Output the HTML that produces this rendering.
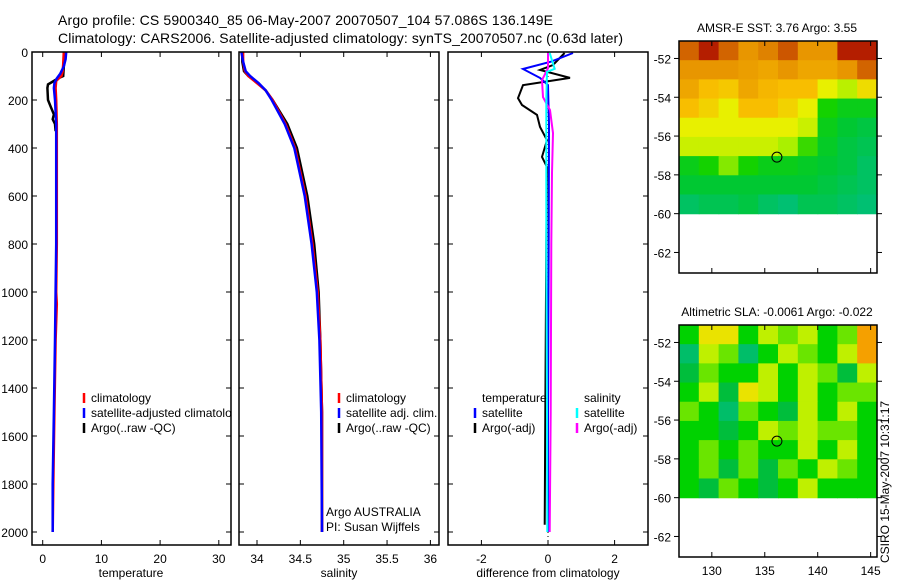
<!DOCTYPE html>
<html><head><meta charset="utf-8"><style>
html,body{margin:0;padding:0;background:#fff;}
svg{display:block;font-family:"Liberation Sans",sans-serif;}
text{fill:#000;}
</style></head><body>
<svg id="fig" width="900" height="580" viewBox="0 0 900 580" xmlns="http://www.w3.org/2000/svg">
<defs>
<clipPath id="c1"><rect x="32" y="52" width="199" height="493"/></clipPath>
<clipPath id="c2"><rect x="239" y="52" width="200" height="493"/></clipPath>
<clipPath id="c3"><rect x="448" y="52" width="200" height="493"/></clipPath>
</defs>
<text x="58" y="25" font-size="14" textLength="495">Argo profile: CS 5900340_85 06-May-2007 20070507_104 57.086S 136.149E</text>
<text x="58" y="43" font-size="14" textLength="565">Climatology: CARS2006. Satellite-adjusted climatology: synTS_20070507.nc (0.63d later)</text>
<g id="root"></g>
</svg>
<script>
// ---- profile data ----
const depthTclim = [0,50,80,100,120,150,200,300,500,800,1000,1050,1200,1500,1800,2000];
const tempClim   = [3.6,3.5,3.4,3.2,2.3,2.2,2.3,2.4,2.4,2.4,2.3,2.4,2.2,2.0,1.8,1.7];
const depthTsat  = [0,30,60,90,110,130,150,200,300,500,800,1000,1200,1500,1800,2000];
const tempSat    = [4.0,3.9,3.6,3.0,2.4,2.0,1.9,2.1,2.3,2.3,2.3,2.2,2.1,1.9,1.7,1.7];
const depthTargo = [0,30,60,100,110,125,135,150,200,230,260,280,300,330];
const tempArgo   = [3.8,3.7,3.6,3.5,2.6,1.6,0.9,0.8,0.9,1.4,1.9,1.7,2.1,2.2];

const depthS     = [0,40,80,100,130,160,200,300,400,600,800,1000,1200,1500,2000];
const salClim    = [33.84,33.84,33.86,33.9,34.0,34.1,34.18,34.33,34.44,34.56,34.64,34.70,34.73,34.75,34.75];
const salSat     = [33.82,33.84,33.87,33.92,34.02,34.1,34.17,34.32,34.43,34.55,34.63,34.69,34.72,34.74,34.75];
const salArgo    = [33.83,33.83,33.85,33.9,34.01,34.1,34.18,34.35,34.46,34.58,34.66,34.71,34.73,34.75,34.75];

const depthDT    = [4,54,75,108,138,192,221,262,312,367,437,479,800,1500,1970];
const diffTargo  = [0.5,0.15,-0.24,0.66,-0.75,-0.9,-0.78,-0.33,-0.24,-0.03,-0.18,-0.03,-0.05,-0.08,-0.1];
const depthDTs   = [4,40,71,108,138,300,800,1500,2000];
const diffTsat   = [0.75,0.1,-0.75,-0.24,0.0,0.03,0.02,0.0,0.0];
const depthDS    = [4,68,117,188,242,338,504,800,1500,2000];
const diffSargo  = [0.0,0.0,-0.18,-0.15,0.06,0.15,0.12,0.1,0.08,0.05];
const depthDSs   = [4,70,83,200,800,1500,2000];
const diffSsat   = [0.05,0.2,-0.03,-0.05,-0.05,-0.03,-0.02];

// ---- map data (rows from -51 to -60, 10 cols spanning 126.9..145.6) ----
const sstGrid = [
 [5.5,6.0,5.5,5.0,5.2,5.6,5.0,5.0,6.0,6.0],
 [5.0,5.0,5.0,4.9,4.8,5.0,4.8,4.8,5.0,5.5],
 [4.8,4.5,4.4,4.8,4.6,4.5,4.5,4.0,3.7,4.2],
 [4.5,4.3,4.0,4.5,4.5,4.3,4.0,3.2,3.0,3.0],
 [4.0,4.0,4.0,4.0,4.0,4.0,3.8,3.0,2.8,2.7],
 [3.8,3.8,3.8,3.8,3.8,3.6,3.3,2.9,2.7,2.6],
 [3.0,3.2,3.5,3.2,3.0,3.0,2.9,2.8,2.7,2.5],
 [2.8,2.8,2.8,2.8,2.8,2.8,2.8,2.7,2.6,2.5],
 [2.5,2.6,2.6,2.7,2.5,2.4,2.6,2.6,2.5,2.4]];
const slaGrid = [
 [0.0,0.15,0.15,0.0,0.1,0.05,0.1,0.0,0.05,0.2],
 [-0.1,0.1,0.05,-0.1,0.0,0.1,0.05,0.0,0.1,0.2],
 [-0.05,0.05,0.0,0.0,0.1,0.0,0.1,0.05,-0.05,0.1],
 [0.0,0.1,-0.05,0.15,0.1,0.0,0.1,0.0,0.05,0.05],
 [0.05,0.0,-0.1,0.05,0.0,-0.05,0.1,0.0,0.1,0.0],
 [0.0,0.0,-0.05,0.0,0.1,0.05,0.1,0.05,0.05,0.0],
 [0.0,0.05,0.0,0.05,0.0,0.0,0.1,0.0,0.1,0.0],
 [0.0,0.05,-0.05,0.05,-0.05,0.05,0.0,0.1,0.05,0.0],
 [0.0,-0.05,0.05,0.0,-0.05,0.0,0.1,0.0,0.0,0.0]];
const floatLon = 136.149;
const floatLat = -57.086;

const depthTicks = [0,200,400,600,800,1000,1200,1400,1600,1800,2000];
const tempTicks = [0,10,20,30];
const salTicks = [34,34.5,35,35.5,36];
const diffTicks = [-2,0,2];
const lonTicks = [130,135,140,145];
const latTicks = [-52,-54,-56,-58,-60,-62];

const NS="http://www.w3.org/2000/svg";
const root=document.getElementById('root');
function mk(tag,attrs,parent){const e=document.createElementNS(NS,tag);for(const k in attrs)e.setAttribute(k,attrs[k]);(parent||root).appendChild(e);return e;}
const yD=d=>52+0.24*d;
const xT=t=>42.7+5.87*t;
const xS=s=>257+86.7*(s-34);
const xDf=v=>548+33.3*v;

function frame(x0,x1,y0,y1,name){
  const r=mk('rect',{x:x0,y:y0,width:x1-x0,height:y1-y0,fill:'none',stroke:'#000','stroke-width':1.5});
  
  
}
function line(pts,color,w,clip,name){
  const p=mk('polyline',{points:pts.map(q=>q[0].toFixed(1)+','+q[1].toFixed(1)).join(' '),fill:'none',stroke:color,'stroke-width':w,'clip-path':'url(#'+clip+')'});
  
  
}
function txt(x,y,s,size,anchor,name){
  const t=mk('text',{x:x,y:y,'font-size':size,'text-anchor':anchor||'start'});
  t.textContent=s;
  
  
  return t;
}
const panels=[[32,231,'c1'],[239,439,'c2'],[448,648,'c3']];
panels.forEach((p,i)=>{
  depthTicks.forEach(d=>{
    mk('line',{x1:p[0],x2:p[0]+5,y1:yD(d),y2:yD(d),stroke:'#000'});
    mk('line',{x1:p[1],x2:p[1]-5,y1:yD(d),y2:yD(d),stroke:'#000'});
  });
});
depthTicks.forEach(d=>{txt(28,yD(d)+5,String(d),12,'end','depth-tick-label');});
function xticks(ticks,fx,x0,x1,fmt,name){
  ticks.forEach(v=>{const x=fx(v);
    mk('line',{x1:x,x2:x,y1:545,y2:540,stroke:'#000'});
    mk('line',{x1:x,x2:x,y1:52,y2:57,stroke:'#000'});
    txt(x,563,fmt?fmt(v):String(v),12,'middle',name);});
}
xticks(tempTicks,xT,32,231,null,'temp-tick-label');
xticks(salTicks,xS,239,439,null,'salinity-tick-label');
xticks(diffTicks,xDf,448,648,null,'diff-tick-label');
txt(131,577,'temperature',12,'middle','x-axis-title-temperature');
txt(339,577,'salinity',12,'middle','x-axis-title-salinity');
txt(548,577,'difference from climatology',12,'middle','x-axis-title-difference');

const Z=(ds,vs,fx)=>ds.map((d,i)=>[fx(vs[i]),yD(d)]);
line(Z(depthTargo,tempArgo,xT),'#000',2.5,'c1','temp-argo-line');
line(Z(depthTclim,tempClim,xT),'#f00',2.5,'c1','temp-climatology-line');
line(Z(depthTsat,tempSat,xT),'#00f',2.5,'c1','temp-satellite-line');
line(Z(depthS,salArgo,xS),'#000',2.5,'c2','salinity-argo-line');
line(Z(depthS,salClim,xS),'#f00',2.5,'c2','salinity-climatology-line');
line(Z(depthS,salSat,xS),'#00f',2.5,'c2','salinity-satellite-line');
mk('line',{x1:xDf(0),x2:xDf(0),y1:52,y2:545,stroke:'#000','stroke-dasharray':'1,3'});
line(Z(depthDT,diffTargo,xDf),'#000',2,'c3','diff-temp-argo-line');
line(Z(depthDTs,diffTsat,xDf),'#00f',2,'c3','diff-temp-satellite-line');
line(Z(depthDS,diffSargo,xDf),'#f0f',2,'c3','diff-salinity-argo-line');
line(Z(depthDSs,diffSsat,xDf),'#0ff',2,'c3','diff-salinity-satellite-line');
panels.forEach((p,i)=>frame(p[0],p[1],52,545,'profile-panel-'+(i+1)));

function legendEntry(xm,y,color,label,clip,name){
  mk('line',{x1:xm,x2:xm,y1:y-7,y2:y+3,stroke:color,'stroke-width':2.5});
  const t=txt(xm+7,y+2,label,12,'start',name);
  if(clip)t.setAttribute('clip-path','url(#'+clip+')');
}
legendEntry(84,400,'#f00','climatology','c1','legend-climatology');
legendEntry(84,415,'#00f','satellite-adjusted climatology','c1','legend-satellite-adjusted');
legendEntry(84,430,'#000','Argo(..raw -QC)','c1','legend-argo');
legendEntry(339,400,'#f00','climatology',null,'legend-sal-climatology');
legendEntry(339,415,'#00f','satellite adj. clim.',null,'legend-sal-satellite');
legendEntry(339,430,'#000','Argo(..raw -QC)',null,'legend-sal-argo');
txt(482,402,'temperature',12,'start','legend-temperature-heading');
legendEntry(475,415,'#00f','satellite',null,'legend-diff-temp-satellite');
legendEntry(475,430,'#000','Argo(-adj)',null,'legend-diff-temp-argo');
txt(584,402,'salinity',12,'start','legend-salinity-heading');
legendEntry(577,415,'#0ff','satellite',null,'legend-diff-sal-satellite');
legendEntry(577,430,'#f0f','Argo(-adj)',null,'legend-diff-sal-argo');
txt(326,516,'Argo AUSTRALIA',12,'start','argo-agency-label');
txt(326,531,'PI: Susan Wijffels',12,'start','pi-label');

// ---- maps ----
const lonL=126.9, lonR=145.6;
const xLon=l=>679+(l-lonL)*(198/(lonR-lonL));
function colorStops(stops,v){
  if(v<=stops[0][0])return stops[0][1];
  for(let i=1;i<stops.length;i++){if(v<=stops[i][0]){const a=stops[i-1],b=stops[i],f=(v-a[0])/(b[0]-a[0]);
    return 'rgb('+[0,1,2].map(k=>Math.round(a[1][k]+(b[1][k]-a[1][k])*f)).join(',')+')';}}
  return stops[stops.length-1][1];
}
const sstStops=[[2.3,[0,190,130]],[2.8,[0,200,50]],[3.2,[20,210,0]],[3.6,[170,240,0]],[4.0,[232,240,0]],[4.5,[248,190,0]],[5.0,[232,150,0]],[5.5,[210,100,0]],[6.0,[180,30,0]]];
const slaStops=[[-0.15,[0,190,150]],[-0.05,[0,190,60]],[0.0,[0,210,0]],[0.08,[170,240,0]],[0.14,[232,240,0]],[0.2,[245,160,0]]];
function toRgb(c){return Array.isArray(c)?'rgb('+c.join(',')+')':c;}
function drawMap(top,grid,stops,title,name){
  const yLat=la=>top+(-51.1-la)*19.4;
  const rows=grid.length, cols=grid[0].length;
  const cw=198/cols;
  grid.forEach((row,r)=>row.forEach((v,c)=>{
    const y0=yLat(-51.1-r*(8.9/rows)), y1=yLat(-51.1-(r+1)*(8.9/rows));
    const cell=mk('rect',{x:(679+c*cw).toFixed(2),y:y0.toFixed(2),width:(cw+0.6).toFixed(2),height:(y1-y0+0.6).toFixed(2),fill:toRgb(colorStops(stops,v))});
    
    
  }));
  const bottom=top+232;
  const fr=mk('rect',{x:679,y:top,width:198,height:232,fill:'none',stroke:'#000','stroke-width':1.5});
  
  
  lonTicks.forEach(l=>{const x=xLon(l);
    mk('line',{x1:x,x2:x,y1:top,y2:top+5,stroke:'#000'});
    mk('line',{x1:x,x2:x,y1:bottom,y2:bottom-5,stroke:'#000'});
  });
  latTicks.forEach(la=>{const y=yLat(la);
    mk('line',{x1:679,x2:674,y1:y,y2:y,stroke:'#000'});
    mk('line',{x1:877,x2:882,y1:y,y2:y,stroke:'#000'});
    txt(671,y+5,String(la),12,'end',name+'-lat-label');
  });
  const m=mk('circle',{cx:xLon(floatLon),cy:yLat(floatLat),r:5,fill:'none',stroke:'#000','stroke-width':1});
  
  
  txt(777,top-9,title,12,'middle',name+'-title');
}
drawMap(41,sstGrid,sstStops,'AMSR-E SST: 3.76  Argo: 3.55','sst-map');
drawMap(325,slaGrid,slaStops,'Altimetric SLA: -0.0061  Argo: -0.022','sla-map');
lonTicks.forEach(l=>txt(xLon(l),575,String(l),12,'middle','lon-tick-label'));
const stamp=txt(0,0,'CSIRO 15-May-2007 10:31:17',12,'start','timestamp-label');
stamp.setAttribute('transform','translate(889,563) rotate(-90)');
</script>
</body></html>
